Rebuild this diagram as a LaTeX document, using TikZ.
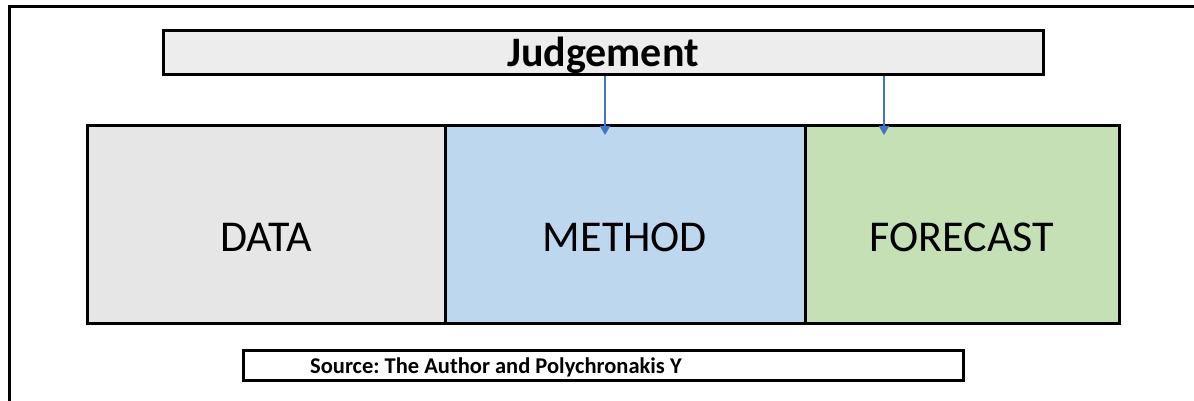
\documentclass[tikz,border=0pt]{standalone}
\usepackage{fontspec}
\setmainfont{Carlito}
\usetikzlibrary{arrows.meta}
\frenchspacing
\definecolor{judgefill}{HTML}{EDEDED}
\definecolor{datafill}{HTML}{E6E6E6}
\definecolor{methodfill}{HTML}{BDD7EE}
\definecolor{forecastfill}{HTML}{C5E0B4}
\definecolor{arrowblue}{HTML}{4472C4}
\tikzset{
  frameline/.style={line width=3pt, line cap=rect},
  stagebox/.style={draw, line width=3pt, rectangle, inner sep=0pt,
    minimum height=197pt, text height=53pt, text depth=0pt,
    font=\fontsize{44}{44}\selectfont},
  judgebox/.style={draw, line width=3pt, rectangle, fill=judgefill, inner sep=0pt,
    minimum width=880pt, minimum height=44pt, text height=27pt, text depth=0pt,
    font=\bfseries\fontsize{42}{42}\selectfont},
  srcbox/.style={draw, line width=3pt, rectangle, inner sep=0pt,
    minimum width=720pt, minimum height=30pt},
  srctext/.style={anchor=base west, inner sep=0pt, font=\bfseries\fontsize{22.5}{22.5}\selectfont},
  flow/.style={draw=arrowblue, line width=2pt,
    -{Triangle[width=10pt,length=9pt]}},
}
\begin{document}
\begin{tikzpicture}[x=1pt, y=-1pt]
  \useasboundingbox (0,0) rectangle (1194,401);
  % outer frame (top and left edges)
  \draw[frameline] (9,401) -- (9,7) -- (1194,7);
  % judgement bar
  \node[judgebox] (judge) at (603,53) {Judgement};
  % the three stages
  \node[stagebox, fill=datafill, minimum width=358pt] (data) at (266,224.5) {DATA};
  \node[stagebox, fill=methodfill, minimum width=360pt] (method) at (625,224.5) {METHOD};
  \node[stagebox, fill=forecastfill, minimum width=314pt] (forecast) at (962,224.5) {FORECAST};
  % judgement feeds method and forecast
  \coordinate (tipM) at (605,135);
  \coordinate (tipF) at (884,135);
  \draw[flow] (judge.south -| tipM) -- (tipM);
  \draw[flow] (judge.south -| tipF) -- (tipF);
  % source line
  \node[srcbox] (src) at (603,365) {};
  \node[srctext] (srclabel) at (310,373) {Source: The Author and Polychronakis Y};
\end{tikzpicture}
\end{document}
